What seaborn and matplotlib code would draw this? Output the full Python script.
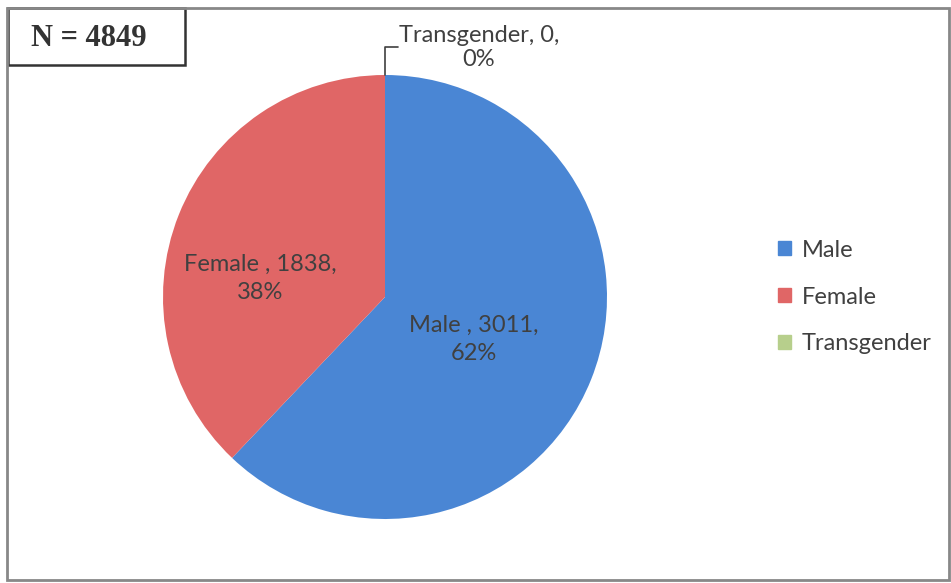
import matplotlib
matplotlib.use("Agg")
import matplotlib.pyplot as plt
import matplotlib.patches as mpatches
import seaborn as sns

# data
categories = ["Male", "Female", "Transgender"]
counts = [3011, 1838, 0]
percents = ["62%", "38%", "0%"]
total_n = 4849
colors = ["#4a86d4", "#e06666", "#b7cf8c"]

sns.set_theme(style="white")
plt.rcParams["font.family"] = ["Lato", "DejaVu Sans"]

fig = plt.figure(figsize=(9.51, 5.83), dpi=100)
ax = fig.add_axes([0, 0, 1, 1])

# pie centre at pixel (385, 297), radius 222 px -> map pixels to data units
cx, cy, r = 385, 297, 222

ax.pie(counts, colors=colors, startangle=90, counterclock=False,
       radius=1.0, center=(0, 0), frame=True,
       wedgeprops=dict(edgecolor="none"))
ax.set_xlim(-cx / r, (951 - cx) / r)
ax.set_ylim((cy - 583) / r, cy / r)
ax.set_aspect("auto")
ax.axis("off")

lbl_color = "#404040"
fs = 17
ls = 1.4
ax.text(-0.563, 0.083, f"{categories[1]} , {counts[1]},\n{percents[1]}",
        ha="center", va="center", fontsize=fs, color=lbl_color, linespacing=ls)
ax.text(0.401, -0.19, f"{categories[0]} , {counts[0]},\n{percents[0]}",
        ha="center", va="center", fontsize=fs, color=lbl_color, linespacing=ls)
ax.text(0.423, 1.124, f"{categories[2]}, {counts[2]},\n{percents[2]}",
        ha="center", va="center", fontsize=fs, color=lbl_color, linespacing=1.2)
# leader line for the empty slice
ax.plot([0, 0, 0.059], [1.0, 1.126, 1.126], color="#404040", lw=1.2)

# legend
handles = [mpatches.Patch(color=c, label=l) for c, l in zip(colors, categories)]
fig.legend(handles=handles, loc="center left", bbox_to_anchor=(778 / 951, 1 - 297 / 583),
           frameon=False, fontsize=fs, handlelength=0.55, handleheight=0.55,
           handletextpad=0.45, labelspacing=1.1, labelcolor=lbl_color,
           borderpad=0, borderaxespad=0)

# N box and outer border
fig.patches.append(mpatches.Rectangle((8 / 951, 1 - 65 / 583), 177 / 951, 57 / 583,
                                      transform=fig.transFigure, fill=False,
                                      edgecolor="#333333", lw=1.8))
fig.text(89 / 951, 1 - 38 / 583, f"N = {total_n}", ha="center", va="center",
         fontsize=22, fontweight="bold", family="Liberation Serif", color="#333333")
fig.patches.append(mpatches.Rectangle((7 / 951, 3 / 583), 942 / 951, 572 / 583,
                                      transform=fig.transFigure, fill=False,
                                      edgecolor="#888888", lw=2))

fig.savefig("out.png", dpi=100)
